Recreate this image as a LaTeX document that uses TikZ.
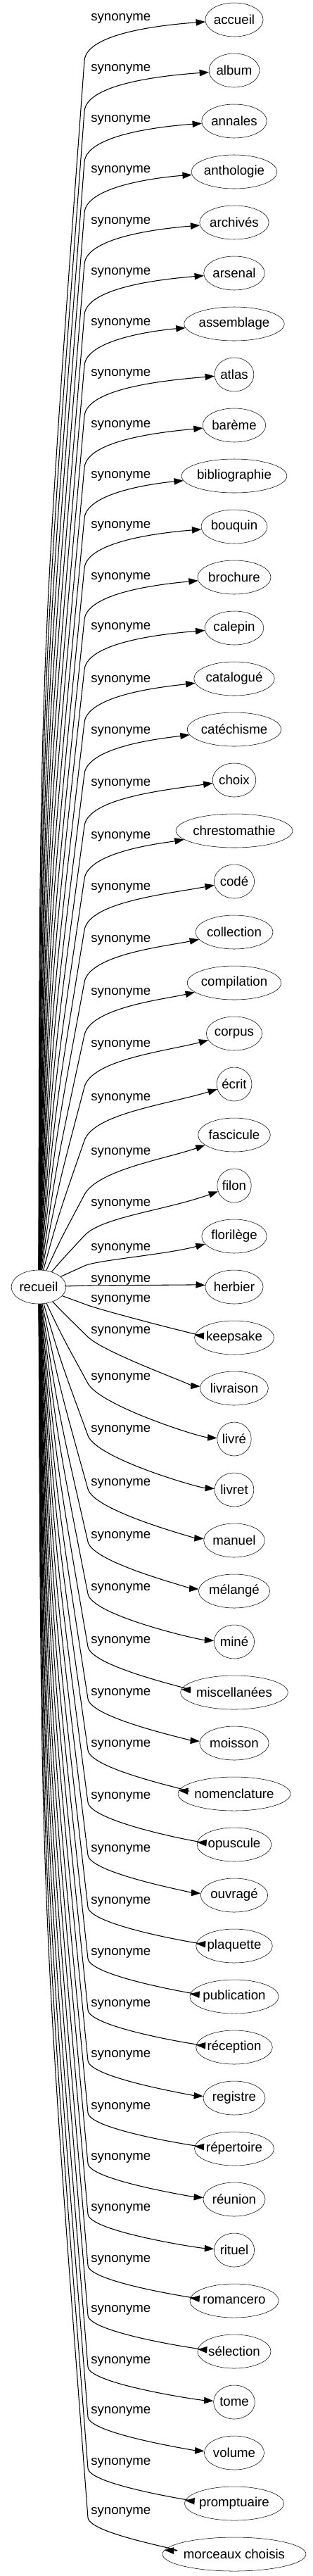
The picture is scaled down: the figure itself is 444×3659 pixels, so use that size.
\documentclass[tikz,border=0pt]{standalone}
\usepackage{fontspec}
\setmainfont{Liberation Sans}
\usetikzlibrary{arrows.meta,shapes.geometric}

\newlength{\wordw}
\newcommand{\gvfont}{\fontsize{14}{16}\selectfont}

\begin{document}
\begin{tikzpicture}[x=0.75pt, y=-0.75pt,
    word/.style={draw, ellipse, inner sep=0pt, minimum height=36pt, font=\gvfont},
    syn/.style={inner sep=0pt, anchor=west, font=\gvfont},
    link/.style={line width=0.8pt, -{Triangle[length=10pt,width=7pt]}}]
  \useasboundingbox (0,0) rectangle (444,3659);

  % Centre word
  \settowidth{\wordw}{\gvfont recueil}
  \node[word, minimum width=1.209*\wordw+24.75pt] (recueil) at (55,1828) {recueil};

  % Synonyms: node name / text / y of the label
  \foreach \name/\word/\sy [count=\i from 0] in {
      accueil/accueil/26, album/album/98, annales/annales/170,
      anthologie/anthologie/242, archives/archivés/315, arsenal/arsenal/387,
      assemblage/assemblage/459, atlas/atlas/531, bareme/barème/604,
      bibliographie/bibliographie/676, bouquin/bouquin/747, brochure/brochure/820,
      calepin/calepin/891, catalogue/catalogué/966, catechisme/catéchisme/1039,
      choix/choix/1113, chrestomathie/chrestomathie/1188, code/codé/1261,
      collection/collection/1335, compilation/compilation/1410, corpus/corpus/1484,
      ecrit/écrit/1560, fascicule/fascicule/1637, filon/filon/1710,
      florilege/florilège/1773, herbier/herbier/1818, keepsake/keepsake/1846,
      livraison/livraison/1891, livre/livré/1957, livret/livret/2031,
      manuel/manuel/2107, melange/mélangé/2182, mine/miné/2256,
      miscellanees/miscellanées/2331, moisson/moisson/2405,
      nomenclature/nomenclature/2478, opuscule/opuscule/2552, ouvrage/ouvragé/2627,
      plaquette/plaquette/2701, publication/publication/2774,
      reception/réception/2847, registre/registre/2919, repertoire/répertoire/2993,
      reunion/réunion/3065, rituel/rituel/3137, romancero/romancero/3210,
      selection/sélection/3281, tome/tome/3354, volume/volume/3425,
      promptuaire/promptuaire/3498, morceaux/morceaux choisis/3568}{
    \settowidth{\wordw}{\gvfont \word}
    \pgfmathsetmacro\wy{28+72*\i}
    \pgfmathsetmacro\xw{333-(1.209*\wordw+24.75)/1.5}
    \node[word, minimum width=1.209*\wordw+24.75pt] (\name) at (333,\wy) {\word};
    \node[syn] (syn-\name) at (129,\sy) {synonyme};
    % bend of the edge: under the label (upper half), left of it (lower half)
    \ifnum\i<25
      \pgfmathsetmacro\bend{min(60,max(25,(1800-\sy)/2))}
      \pgfmathsetmacro\bx{120}
      \pgfmathsetmacro\by{\sy+\bend}
      \pgfmathsetmacro\kk{min(40,0.8*\bend)}
      \pgfmathsetmacro\ex{min(236,\xw-35)}
      \pgfmathsetmacro\ey{\sy+9}
    \else
      \pgfmathsetmacro\bx{125}
      \pgfmathsetmacro\by{\sy+8}
      \pgfmathsetmacro\kk{0.4*(\wy-\sy-8)+4}
      \pgfmathsetmacro\ex{\xw-35}
      \pgfmathsetmacro\ey{\wy-3}
    \fi
    \pgfmathsetmacro\sh{0.018*abs(\by-1828)}
    \pgfmathsetmacro\mx{(55+\bx)/2-\sh}
    \pgfmathsetmacro\my{(1828+\by)/2}
    \pgfmathsetmacro\ux{(\bx-\mx)/100}
    \pgfmathsetmacro\uy{(\by-\my)/100}
    \pgfmathsetmacro\un{sqrt(\ux*\ux+\uy*\uy)}
    \pgfmathsetmacro\cx{\bx+\kk*\ux/\un}
    \pgfmathsetmacro\cy{\by+\kk*\uy/\un}
    \draw[link] (recueil) .. controls (\mx,\my) .. (\bx,\by)
      .. controls (\cx,\cy) and (\ex,\ey) .. (\name);
  }
\end{tikzpicture}
\end{document}
